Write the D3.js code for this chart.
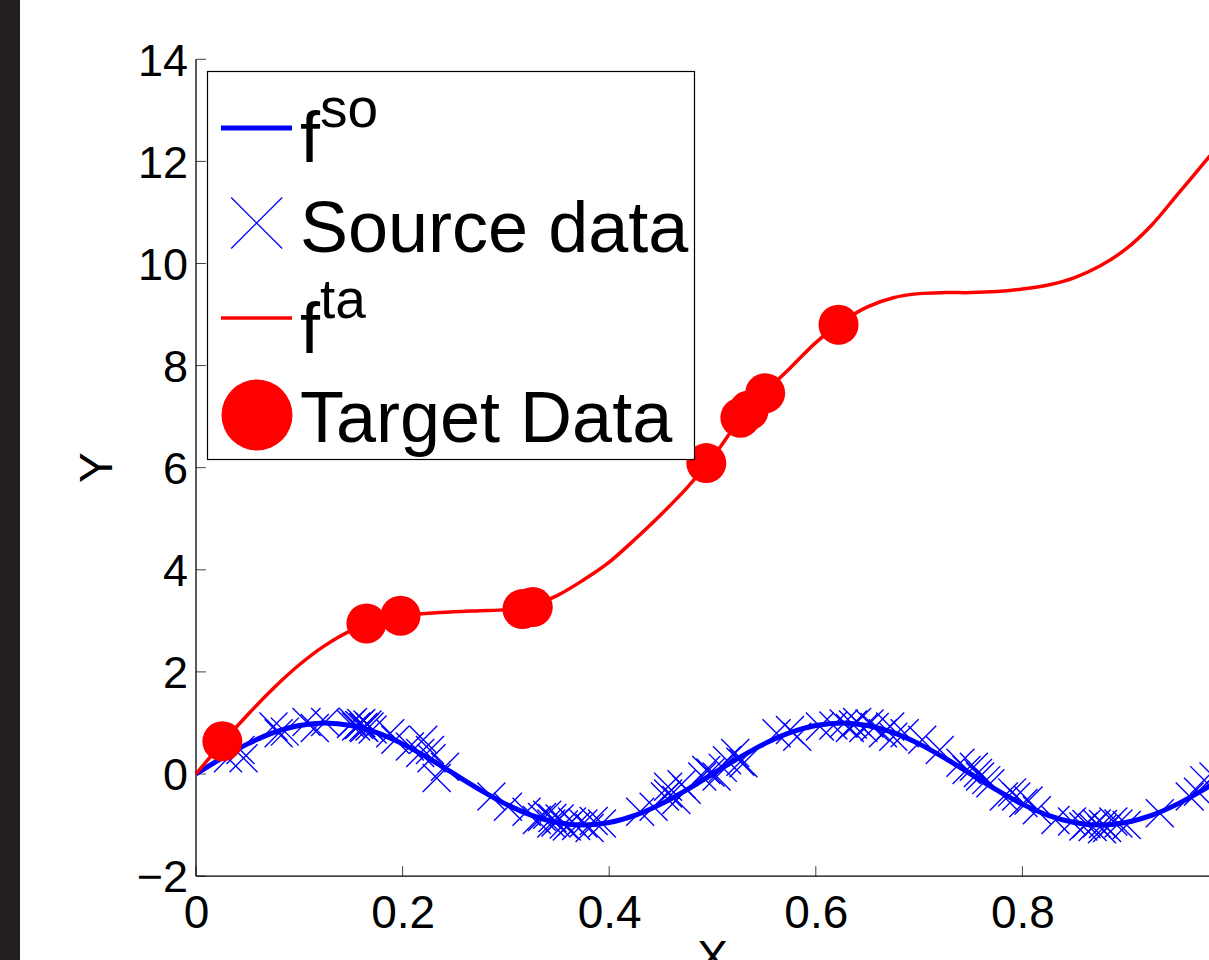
<!DOCTYPE html>
<html>
<head>
<meta charset="utf-8">
<script src="https://cdn.jsdelivr.net/npm/d3@7"></script>
<style>
  html, body { margin: 0; padding: 0; background: #ffffff; }
  svg { display: block; }
  text { font-family: "Liberation Sans", Arial, Helvetica, sans-serif; fill: #000; }
</style>
</head>
<body>
<svg id="chart" width="1209" height="960"></svg>
<script>
// ---------- data ----------
const xTicks = [0, 0.2, 0.4, 0.6, 0.8];
const xTickLabels = ["0", "0.2", "0.4", "0.6", "0.8"];
const yTicks = [-2, 0, 2, 4, 6, 8, 10, 12, 14];
const yTickLabels = ["\u22122", "0", "2", "4", "6", "8", "10", "12", "14"];

// f^so curve (blue), sampled every 0.025
const soX = [0,0.025,0.05,0.075,0.1,0.125,0.15,0.175,0.2,0.225,0.25,0.275,0.3,0.325,0.35,0.375,0.4,0.425,0.45,0.475,0.5,
             0.525,0.55,0.575,0.6,0.625,0.65,0.675,0.7,0.725,0.75,0.775,0.8,0.825,0.85,0.875,0.9,0.925,0.95,0.975,1.0];
const soY = [0,0.31,0.59,0.81,0.95,1.0,0.95,0.81,0.59,0.31,0,-0.31,-0.59,-0.81,-0.95,-1.0,-0.95,-0.81,-0.59,-0.31,0,
             0.31,0.59,0.81,0.95,1.0,0.95,0.81,0.59,0.31,0,-0.31,-0.59,-0.81,-0.95,-1.0,-0.95,-0.81,-0.59,-0.31,0];

// Source data (blue x markers)
const srcX = [0.031,0.043,0.046,0.075,0.080,0.086,0.107,0.115,0.125,0.152,0.155,0.160,0.163,0.168,0.171,0.188,0.193,0.207,
              0.217,0.220,0.2265,0.228,0.233,0.241,0.286,0.302,0.320,0.330,0.340,0.344,0.352,0.359,0.364,0.375,0.381,0.393,
              0.430,0.443,0.454,0.457,0.457,0.465,0.475,0.494,0.504,0.514,0.522,0.530,0.562,0.575,0.582,0.604,0.627,0.633,
              0.640,0.646,0.652,0.665,0.672,0.675,0.686,0.703,0.720,0.746,0.753,0.759,0.769,0.782,0.794,0.801,0.814,0.832,
              0.848,0.859,0.872,0.882,0.888,0.901,0.933,0.962,0.970,0.976,0.158,0.166,0.345,0.356,0.527,0.636,0.765,0.868,
              0.878,0.150,0.162,0.335,0.348,0.368,0.385,0.470,0.490,0.498,0.510,0.617,0.657,0.740,0.757,0.790,0.806,0.862,
              0.877,0.893,0.985];
const srcY = [0.31,0.47,0.31,0.93,0.80,0.83,1.02,0.90,1.02,1.02,0.93,1.0,0.90,0.93,0.87,0.80,0.67,0.54,
              0.41,0.67,0.47,0.31,-0.08,0.14,-0.44,-0.64,-0.74,-0.90,-0.80,-0.97,-0.87,-1.03,-0.93,-0.97,-1.06,-0.97,
              -0.74,-0.64,-0.44,-0.25,-0.38,-0.51,-0.31,0.08,-0.05,0.27,0.41,0.21,0.80,0.86,0.73,0.93,0.99,0.90,
              1.02,0.90,0.99,0.80,0.93,0.73,0.80,0.67,0.47,0.08,0.14,-0.05,-0.18,-0.44,-0.44,-0.57,-0.71,-0.90,
              -0.93,-1.03,-0.97,-1.06,-0.93,-1.0,-0.77,-0.44,-0.35,-0.12,0.96,0.97,-0.86,-0.99,0.24,0.97,-0.12,-1.04,
              -0.98,0.98,0.92,-0.84,-0.95,-1.02,-0.92,-0.20,-0.05,0.03,0.12,0.95,0.92,0.22,0.02,-0.36,-0.52,-0.98,
              -1.08,-0.97,-0.05];

// f^ta curve (red), sampled every 0.025
const taX = soX;
const taY = [0,0.60,1.16,1.68,2.14,2.52,2.81,3.0,3.1,3.15,3.18,3.2,3.22,3.3,3.5,3.8,4.15,4.6,5.08,5.6,6.2,
             6.9,7.46,7.95,8.45,8.85,9.15,9.33,9.41,9.43,9.43,9.45,9.5,9.58,9.72,9.95,10.28,10.75,11.35,11.95,12.55];

// Target data (red dots)
const tgtX = [0.0255,0.165,0.198,0.316,0.326,0.494,0.527,0.535,0.551,0.622];
const tgtY = [0.64,2.95,3.10,3.23,3.27,6.09,6.98,7.12,7.46,8.80];

const legendLabels = [
  {base: "f", sup: "so"},
  {base: "Source data", sup: null},
  {base: "f", sup: "ta"},
  {base: "Target Data", sup: null}
];

// ---------- drawing ----------
const svg = d3.select("#chart");
const BLUE = "#0000ff", RED = "#ff0000";

// dark strip at the left edge
svg.append("rect").attr("x", 0).attr("y", 0).attr("width", 20).attr("height", 960).attr("fill", "#231f20");

const x = d3.scaleLinear().domain([0, 1]).range([196, 1229]);
const y = d3.scaleLinear().domain([-2, 14]).range([876.1, 59.3]);

// axes
const xAxis = d3.axisBottom(x).tickValues(xTicks).tickSize(0).tickFormat((d, i) => xTickLabels[i]);
const gx = svg.append("g").attr("transform", `translate(0,${y(-2)})`).call(xAxis);
gx.select(".domain").remove();
gx.selectAll("text").attr("font-size", 46).attr("dy", 0).attr("y", 52);

const yAxis = d3.axisLeft(y).tickValues(yTicks).tickSize(0).tickFormat((d, i) => yTickLabels[i]);
const gy = svg.append("g").attr("transform", `translate(${x(0)},0)`).call(yAxis);
gy.select(".domain").remove();
gy.selectAll("text").attr("font-size", 45).attr("x", -8).attr("dy", "0.35em");

// inward ticks
svg.append("g").selectAll("line").data(xTicks).join("line")
  .attr("x1", d => x(d)).attr("x2", d => x(d))
  .attr("y1", y(-2)).attr("y2", y(-2) - 10)
  .attr("stroke", "#444").attr("stroke-width", 1);
svg.append("g").selectAll("line").data(yTicks).join("line")
  .attr("x1", x(0)).attr("x2", x(0) + 10)
  .attr("y1", d => y(d)).attr("y2", d => y(d))
  .attr("stroke", "#444").attr("stroke-width", 1);

// axis lines
svg.append("line").attr("x1", x(0)).attr("x2", x(0)).attr("y1", y(14)).attr("y2", y(-2))
  .attr("stroke", "#000").attr("stroke-width", 1.3);
svg.append("line").attr("x1", x(0)).attr("x2", x(1)).attr("y1", y(-2)).attr("y2", y(-2))
  .attr("stroke", "#000").attr("stroke-width", 1.3);

// axis labels
svg.append("text").attr("x", (x(0) + x(1)) / 2).attr("y", 973).attr("text-anchor", "middle")
  .attr("font-size", 46).text("X");
svg.append("text").attr("transform", `translate(112,${(y(14) + y(-2)) / 2}) rotate(-90)`)
  .attr("text-anchor", "middle").attr("font-size", 46).text("Y");

// f^so line
const line = d3.line().x(d => x(d[0])).y(d => y(d[1])).curve(d3.curveCatmullRom.alpha(0.5));
svg.append("path").datum(d3.zip(soX, soY)).attr("d", line)
  .attr("fill", "none").attr("stroke", BLUE).attr("stroke-width", 5).attr("stroke-linejoin", "round");

// source markers
const m = 14;
const src = svg.append("g").attr("stroke", BLUE).attr("stroke-width", 1.4);
d3.zip(srcX, srcY).forEach(([a, b]) => {
  const cx = x(a), cy = y(b);
  src.append("path").attr("d", `M${cx - m},${cy - m}L${cx + m},${cy + m}M${cx - m},${cy + m}L${cx + m},${cy - m}`);
});

// f^ta line
svg.append("path").datum(d3.zip(taX, taY)).attr("d", line)
  .attr("fill", "none").attr("stroke", RED).attr("stroke-width", 3.5).attr("stroke-linejoin", "round");

// target dots
svg.append("g").selectAll("circle").data(d3.zip(tgtX, tgtY)).join("circle")
  .attr("cx", d => x(d[0])).attr("cy", d => y(d[1])).attr("r", 20).attr("fill", RED);

// legend
const lg = svg.append("g");
lg.append("rect").attr("x", 207.5).attr("y", 71.5).attr("width", 487).attr("height", 388)
  .attr("fill", "#fff").attr("stroke", "#000").attr("stroke-width", 1.2);

const rowBase = [162, 252, 353, 442];
const rowMid = [128, 223, 318, 415];
// row 0: blue line
lg.append("line").attr("x1", 221).attr("x2", 292).attr("y1", rowMid[0]).attr("y2", rowMid[0])
  .attr("stroke", BLUE).attr("stroke-width", 5);
// row 1: x marker
const lm = 25.5, lcx = 256.7, lcy = rowMid[1];
lg.append("path").attr("d", `M${lcx - lm},${lcy - lm}L${lcx + lm},${lcy + lm}M${lcx - lm},${lcy + lm}L${lcx + lm},${lcy - lm}`)
  .attr("stroke", BLUE).attr("stroke-width", 1.3);
// row 2: red line
lg.append("line").attr("x1", 221).attr("x2", 292).attr("y1", rowMid[2]).attr("y2", rowMid[2])
  .attr("stroke", RED).attr("stroke-width", 3.5);
// row 3: red dot
lg.append("circle").attr("cx", 257).attr("cy", rowMid[3]).attr("r", 35.5).attr("fill", RED);

legendLabels.forEach((L, i) => {
  const t = lg.append("text").attr("x", 300).attr("y", rowBase[i]).attr("font-size", 72);
  t.append("tspan").text(L.base);
  if (L.sup) t.append("tspan").attr("dy", -35).attr("font-size", 55).text(L.sup);
});
</script>
</body>
</html>
